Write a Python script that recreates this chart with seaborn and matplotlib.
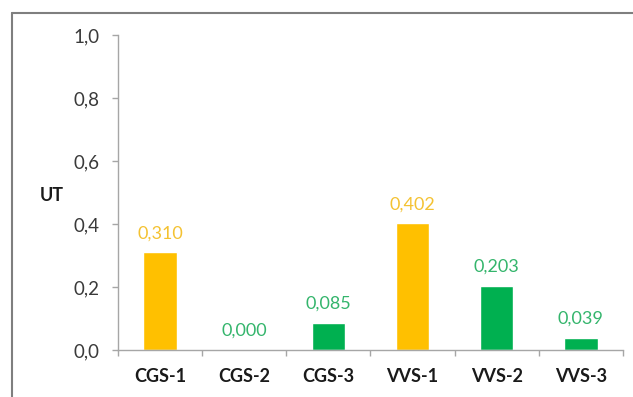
import matplotlib
matplotlib.use("Agg")
import matplotlib.pyplot as plt
from matplotlib.ticker import FuncFormatter, FixedLocator
from matplotlib.lines import Line2D
import seaborn as sns
import pandas as pd

categories = ["CGS-1", "CGS-2", "CGS-3", "VVS-1", "VVS-2", "VVS-3"]
values = [0.310, 0.000, 0.085, 0.402, 0.203, 0.039]
bar_colors = ["#FFC000", "#00B050", "#00B050", "#FFC000", "#00B050", "#00B050"]
label_colors = ["#F4C232", "#34B56C", "#34B56C", "#F4C232", "#34B56C", "#34B56C"]
y_ticks = [0.0, 0.2, 0.4, 0.6, 0.8, 1.0]
y_label = "UT"

sns.set_theme(style="white")
plt.rcParams["font.family"] = ["Lato", "DejaVu Sans"]

df = pd.DataFrame({"cat": categories, "val": values})

fig = plt.figure(figsize=(6.33, 3.97), dpi=100)
ax = fig.add_axes([0.1864, 0.1184, 0.7976, 0.7934])

sns.barplot(data=df, x="cat", y="val", hue="cat", palette=bar_colors,
            order=categories, hue_order=categories, legend=False,
            width=0.4, saturation=1, ax=ax)

ax.set_ylim(0, 1.0)
ax.set_xlim(-0.5, len(categories) - 0.5)
ax.yaxis.set_major_locator(FixedLocator(y_ticks))
ax.yaxis.set_major_formatter(FuncFormatter(lambda v, p: f"{v:.1f}".replace(".", ",")))

axis_col = "#A6A6A6"
for side in ["top", "right"]:
    ax.spines[side].set_visible(False)
for side in ["left", "bottom"]:
    ax.spines[side].set_color(axis_col)
    ax.spines[side].set_linewidth(1.0)

# y ticks outward, x ticks between categories
ax.tick_params(axis="y", which="major", direction="out", length=4, width=1,
               color=axis_col, pad=9, labelsize=13.5, labelcolor="#3A3A3A", left=True)
ax.set_xticks(range(len(categories)))
ax.set_xticklabels(categories, fontweight="bold", fontsize=13, color="#1A1A1A")
ax.tick_params(axis="x", which="major", length=0, pad=13)
ax.set_xticks([i - 0.5 for i in range(len(categories) + 1)], minor=True)
ax.tick_params(axis="x", which="minor", direction="out", length=4, width=1,
               color=axis_col, bottom=True)

ax.set_xlabel("")
ax.set_ylabel(y_label, rotation=0, fontweight="bold", fontsize=13,
              color="#1A1A1A", va="center", ha="center")
ax.yaxis.set_label_coords(-0.132, 0.49)

for i, (v, c) in enumerate(zip(values, label_colors)):
    ax.annotate(f"{v:.3f}".replace(".", ","), (i, v), xytext=(0, 8),
                textcoords="offset points", ha="center", va="bottom",
                fontsize=13, color=c)

# outer frame edge (top and left)
fig.add_artist(Line2D([12 / 633, 1.0], [1 - 13 / 397, 1 - 13 / 397],
                      transform=fig.transFigure, color="#7F7F7F", lw=1.5))
fig.add_artist(Line2D([12 / 633, 12 / 633], [0.0, 1 - 13 / 397],
                      transform=fig.transFigure, color="#7F7F7F", lw=1.5))

fig.savefig("out.png", dpi=100)
